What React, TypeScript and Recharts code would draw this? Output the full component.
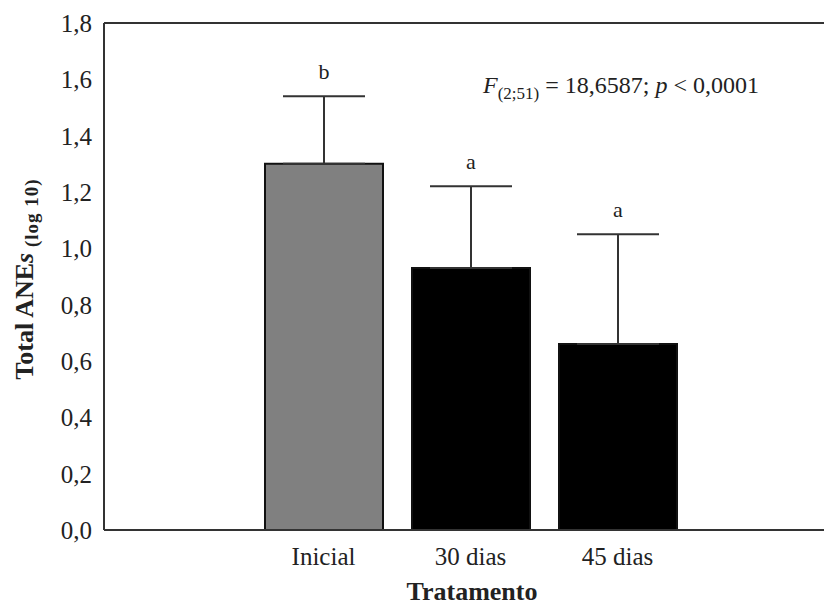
import { Bar, BarChart, Cell, ErrorBar, LabelList, ReferenceLine, XAxis, YAxis } from "recharts";

const categories = ["Inicial", "30 dias", "45 dias"];
const means = [1.3, 0.93, 0.66];
const errors = [0.24, 0.29, 0.39];
const letters = ["b", "a", "a"];
const barColors = ["#808080", "#000000", "#000000"];
const yTicks = [0, 0.2, 0.4, 0.6, 0.8, 1.0, 1.2, 1.4, 1.6, 1.8];

const chartData = categories.map((name, i) => ({
  name,
  mean: means[i],
  err: [0, errors[i]],
}));

const serif = '"Liberation Serif", "Times New Roman", serif';

const renderLetter = (props: any) => {
  const { x, y, width, height, index } = props;
  const pxPerUnit = height / means[index];
  const top = y - errors[index] * pxPerUnit;
  return (
    <text x={x + width / 2} y={top - 17} textAnchor="middle" fontSize={22} fontFamily={serif} fill="#222">
      {letters[index]}
    </text>
  );
};

const YLabel = () => (
  <text transform="translate(33, 279) rotate(-90)" textAnchor="middle" fontFamily={serif} fill="#222">
    <tspan fontSize={26} fontWeight="bold">Total ANE</tspan>
    <tspan fontSize={26} fontWeight="bold" fontStyle="italic">s</tspan>
    <tspan fontSize={19} fontWeight="bold" dy={5} letterSpacing={1}> (log 10)</tspan>
  </text>
);

const App = () => {
  return (
    <div style={{ position: "absolute", left: 0, top: 0, width: 824, height: 609, overflow: "hidden", background: "#fff" }}>
      <BarChart
        width={860}
        height={609}
        data={chartData}
        margin={{ top: 23, left: 34, right: 20, bottom: 29 }}
      >
        <XAxis
          dataKey="name"
          padding={{ left: 146, right: 149 }}
          tickLine={false}
          tickSize={0}
          tickMargin={17}
          height={50}
          axisLine={{ stroke: "#333", strokeWidth: 2 }}
          tick={{ fontSize: 25, fontFamily: serif, fill: "#222" }}
          label={{ value: "Tratamento", position: "insideBottom", offset: -20, fontSize: 26, fontWeight: "bold", fontFamily: serif, fill: "#222" }}
        />
        <YAxis
          domain={[0, 1.8]}
          ticks={yTicks}
          width={70}
          tickLine={false}
          tickSize={0}
          tickMargin={12}
          axisLine={{ stroke: "#333", strokeWidth: 2 }}
          tick={{ fontSize: 25, fontFamily: serif, fill: "#222" }}
          tickFormatter={(v: number) => v.toFixed(1).replace(".", ",")}
          label={<YLabel />}
        />
        <ReferenceLine y={1.8} stroke="#333" strokeWidth={2} />
        <Bar dataKey="mean" barSize={118} stroke="#111" strokeWidth={2} isAnimationActive={false}>
          {chartData.map((d, i) => (
            <Cell key={d.name} fill={barColors[i]} />
          ))}
          <ErrorBar dataKey="err" direction="y" width={41} stroke="#333" strokeWidth={2} isAnimationActive={false} />
          <LabelList dataKey="mean" content={renderLetter} />
        </Bar>
      </BarChart>
      <svg width={824} height={609} style={{ position: "absolute", left: 0, top: 0, pointerEvents: "none" }}>
        <text x={483} y={93} fontFamily={serif} fontSize={24} fill="#222">
          <tspan fontStyle="italic">F</tspan>
          <tspan fontSize={17} dy={6}>(2;51)</tspan>
          <tspan dy={-6}> = 18,6587; </tspan>
          <tspan fontStyle="italic">p</tspan>
          <tspan> &lt; 0,0001</tspan>
        </text>
      </svg>
    </div>
  );
};

export default App;
